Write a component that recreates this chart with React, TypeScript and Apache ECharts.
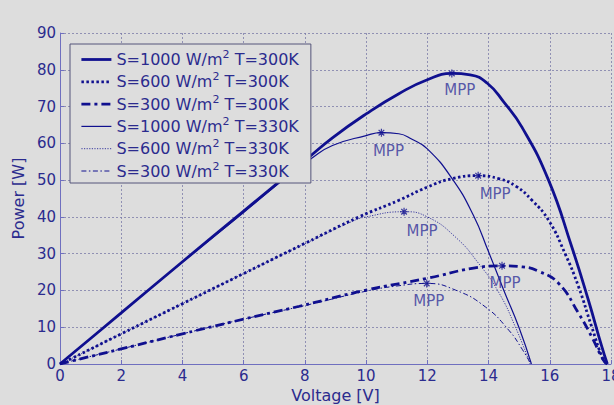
import React, { useEffect, useRef } from 'react';
import * as echarts from 'echarts';

// ---------- data ----------
const seriesNames = [
  'S=1000 W/m2 T=300K',
  'S=600 W/m2 T=300K',
  'S=300 W/m2 T=300K',
  'S=1000 W/m2 T=330K',
  'S=600 W/m2 T=330K',
  'S=300 W/m2 T=330K',
];

// [voltage V, power W]
const curve1000T300 = [
  [0, 0], [0.33, 2.3], [2, 13.9], [4, 27.8], [6, 41.6], [8, 55.3], [8.9, 61.5],
  [10, 68], [11.07, 73.5], [12, 77.3], [12.8, 79.0], [13.4, 78.6], [13.95, 76.4], [14.5, 71.2],
  [15.09, 64.4], [15.96, 50], [16.72, 31.8], [17.26, 17.4], [17.7, 4.7], [17.88, 0],
];
const curve600T300 = [
  [0, 0], [0.38, 1.5], [2, 8.2], [4, 16.4], [6, 24.6], [8, 32.8], [9.77, 40],
  [11.07, 44.5], [12, 48.1], [12.81, 50.4], [13.66, 51.2], [14.33, 50.4], [14.9, 48.3],
  [15.42, 44.5], [15.96, 39.1], [16.5, 30], [16.94, 21], [17.37, 10.1], [17.75, 1.1], [17.88, 0],
];
const curve300T300 = [
  [0, 0], [0.33, 0.7], [2, 4.1], [4, 8.2], [6, 12.2], [7.82, 15.7], [10, 20.1],
  [12, 23.3], [13.46, 26], [14.44, 26.7], [15.1, 26.4], [15.64, 25.2], [16.29, 21.9],
  [16.94, 13.8], [17.37, 7.4], [17.75, 1.1], [17.88, 0],
];
const curve1000T330 = [
  [0, 0], [0.33, 2.3], [2, 13.9], [4, 27.7], [6, 41.2], [7.5, 51.5], [8.2, 55.8],
  [8.9, 59.4], [10, 62.1], [10.5, 62.9], [11.07, 62.6], [11.5, 61.1], [12, 58.5], [12.81, 50.4],
  [13.5, 40.5], [14, 30.5], [14.5, 20], [15, 9.8], [15.4, 0],
];
const curve600T330 = [
  [0, 0], [0.38, 1.5], [2, 8.2], [4, 16.4], [6, 24.6], [8, 32.7], [9.5, 38.6],
  [10, 40], [11.24, 41.4], [12, 40], [12.92, 34.5], [13.68, 27.3], [14.33, 19.5],
  [14.88, 10], [15.36, 0],
];
const curve300T330 = [
  [0, 0], [0.33, 0.7], [2, 4.1], [4, 8.2], [6, 12.2], [8, 15.9], [10, 19.8],
  [11, 21.2], [11.98, 21.9], [12.92, 20.1], [13.9, 15.5], [14.66, 9.2], [15.1, 4], [15.38, 0],
];

const mppVoltage = [12.8, 13.66, 14.44, 10.5, 11.24, 11.98];
const mppPower = [79.0, 51.2, 26.7, 62.9, 41.4, 21.9];
const mppText = 'MPP';

// ---------- styles ----------
const curves = [curve1000T300, curve600T300, curve300T300, curve1000T330, curve600T330, curve300T330];
const lineStyles: any[] = [
  { width: 2.8, type: 'solid' },
  { width: 2.8, type: [2.5, 2.5] },
  { width: 2.8, type: [9, 4, 3, 4] },
  { width: 1.2, type: 'solid' },
  { width: 0.8, type: [1.2, 1.4] },
  { width: 1, type: [5, 2.5, 1.5, 2.5] },
];
const mppLabelShift = [[8, 17], [17, 18], [3, 17], [7, 18], [18, 19], [2, 18]];

const textColor = '#2b2b8e';
const lineColor = '#10108f';
const axisColor = '#6f6fbf';
const gridColor = '#7c7ca8';
const fontFamily = "'DejaVu Sans', 'Liberation Sans', sans-serif";
const bg = '#dddddd';

function buildOption() {
  const axisCommon = {
    type: 'value',
    nameLocation: 'middle',
    nameTextStyle: { color: textColor, fontSize: 16, fontFamily },
    axisLine: { show: true, onZero: false, lineStyle: { color: axisColor, width: 1 } },
    axisTick: { show: true, inside: true, length: 4, lineStyle: { color: axisColor } },
    axisLabel: { color: textColor, fontSize: 15, fontFamily, showMaxLabel: true, showMinLabel: true },
    splitLine: { show: true, lineStyle: { color: gridColor, type: [2, 2], width: 0.8 } },
  };
  const lineSeries = curves.map((c, i) => ({
    name: seriesNames[i],
    type: 'line',
    data: c,
    symbol: 'none',
    showSymbol: false,
    smooth: 0.5,
    lineStyle: { color: lineColor, ...lineStyles[i] },
    itemStyle: { color: lineColor },
    z: 3,
  }));
  const mppSeries = {
    name: 'MPP',
    type: 'scatter',
    symbol: 'path://M4,0L4,8M0,4L8,4M1.2,1.2L6.8,6.8M6.8,1.2L1.2,6.8',
    symbolSize: 8,
    itemStyle: { color: 'rgba(0,0,0,0)', borderColor: lineColor, borderWidth: 1.2 },
    data: mppVoltage.map((v, i) => ({
      value: [v, mppPower[i]],
      label: { offset: mppLabelShift[i] },
    })),
    label: {
      show: true,
      position: 'inside',
      formatter: mppText,
      color: '#34349a',
      fontSize: 15,
      fontFamily,
    },
    z: 5,
  };
  return {
    animation: false,
    backgroundColor: bg,
    grid: { left: 60, right: 3, top: 33, bottom: 41, containLabel: false, outerBoundsMode: 'none' },
    xAxis: {
      ...axisCommon,
      min: 0, max: 18, interval: 2,
      name: 'Voltage [V]',
      nameGap: 21,
      axisLabel: { ...axisCommon.axisLabel, margin: 4 },
    },
    yAxis: {
      ...axisCommon,
      min: 0, max: 90, interval: 10,
      name: 'Power [W]',
      nameGap: 30,
      axisLabel: { ...axisCommon.axisLabel, margin: 4 },
    },
    legend: {
      show: true,
      orient: 'vertical',
      left: 70,
      top: 44,
      padding: [5, 12, 4, 10],
      itemWidth: 30,
      itemHeight: 14,
      itemGap: 3.8,
      backgroundColor: bg,
      borderColor: '#55557a',
      borderWidth: 1,
      selectedMode: false,
      data: seriesNames,
      formatter: (name: string) => {
        const m = name.match(/^(S=\d+ W\/m)2( T=\d+K)$/);
        return m ? `{n|${m[1]}}{sup|2}{n|${m[2]}}` : name;
      },
      textStyle: {
        color: textColor,
        fontSize: 16,
        fontFamily,
        rich: {
          n: { color: textColor, fontSize: 16, fontFamily },
          sup: { color: textColor, fontSize: 11, fontFamily, padding: [0, 0, 10, 0] },
        },
      },
      lineStyle: { width: 'inherit' },
      itemStyle: { color: 'rgba(0,0,0,0)', borderColor: 'rgba(0,0,0,0)', borderWidth: 0, opacity: 0 },
    },
    series: [...lineSeries, mppSeries],
  };
}

export default function App() {
  const ref = useRef<HTMLDivElement>(null);
  useEffect(() => {
    if (!ref.current) return;
    const chart = echarts.init(ref.current, null, { renderer: 'svg' });
    chart.setOption(buildOption() as any);
    return () => chart.dispose();
  }, []);
  return (
    <div
      ref={ref}
      style={{ position: 'absolute', left: 0, top: 0, width: 614, height: 405 }}
    />
  );
}
